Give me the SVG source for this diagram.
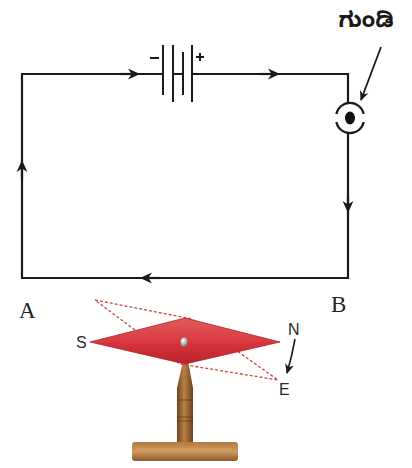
<svg xmlns="http://www.w3.org/2000/svg" width="412" height="468" viewBox="0 0 412 468">
  <defs>
    <style>
      .wire { fill: none; stroke: #1a1a1a; stroke-width: 2.2; }
      .plate { stroke: #1a1a1a; stroke-width: 2; }
      .lbl { font-family: "Liberation Serif", serif; font-size: 23px; fill: #222; }
      .pole { font-family: "Liberation Sans", Arial, sans-serif; font-size: 16px; fill: #2a2a2a; }
      .dash { fill: none; stroke: #d04545; stroke-width: 1.3; stroke-dasharray: 3 2; }
    </style>
    <marker id="ah" viewBox="0 0 10 10" refX="5" refY="5" markerWidth="12" markerHeight="12" orient="auto" markerUnits="userSpaceOnUse">
      <path d="M0,0.5 L10,5 L0,9.5 L3,5 Z" fill="#1a1a1a"/>
    </marker>
    <marker id="ah2" viewBox="0 0 10 10" refX="9" refY="5" markerWidth="10" markerHeight="10" orient="auto" markerUnits="userSpaceOnUse">
      <path d="M0,0.5 L10,5 L0,9.5 L3,5 Z" fill="#1a1a1a"/>
    </marker>
    <linearGradient id="redTop" x1="0" y1="0" x2="0" y2="1">
      <stop offset="0" stop-color="#e35a5a"/>
      <stop offset="1" stop-color="#d93a3f"/>
    </linearGradient>
    <linearGradient id="redBot" x1="0" y1="0" x2="0" y2="1">
      <stop offset="0" stop-color="#d7353b"/>
      <stop offset="1" stop-color="#b9232b"/>
    </linearGradient>
    <linearGradient id="wood" x1="0" y1="0" x2="1" y2="0">
      <stop offset="0" stop-color="#6e4520"/>
      <stop offset="0.45" stop-color="#b98148"/>
      <stop offset="1" stop-color="#6a421e"/>
    </linearGradient>
    <linearGradient id="woodBase" x1="0" y1="0" x2="0" y2="1">
      <stop offset="0" stop-color="#b47b42"/>
      <stop offset="0.5" stop-color="#cf9a5e"/>
      <stop offset="1" stop-color="#8a5a2c"/>
    </linearGradient>
    <radialGradient id="pin" cx="0.4" cy="0.35" r="0.7">
      <stop offset="0" stop-color="#ffffff"/>
      <stop offset="0.6" stop-color="#a8b8b8"/>
      <stop offset="1" stop-color="#6b7d80"/>
    </radialGradient>
  </defs>

  <rect width="412" height="468" fill="#ffffff"/>

  <!-- circuit wiring -->
  <g id="connectors">
    <path class="wire" d="M163,74 H22 V278 H348 V132"/>
    <path class="wire" d="M192,74 H348 V103"/>
    <!-- direction-of-current arrows -->
    <path class="wire" d="M120,74 H134" marker-end="url(#ah)"/>
    <path class="wire" d="M260,74 H274" marker-end="url(#ah)"/>
    <path class="wire" d="M348,195 V207" marker-end="url(#ah)"/>
    <path class="wire" d="M160,278 H146" marker-end="url(#ah)"/>
    <path class="wire" d="M22,180 V166" marker-end="url(#ah)"/>
    <!-- pointer to the key -->
    <path fill="none" stroke="#1a1a1a" stroke-width="1.8" d="M381,47 L361,100" marker-end="url(#ah2)"/>
  </g>

  <!-- battery -->
  <g id="battery">
    <line class="plate" x1="163" y1="45" x2="163" y2="95"/>
    <line class="plate" x1="173" y1="45" x2="173" y2="102"/>
    <line class="plate" x1="183" y1="52" x2="183" y2="95"/>
    <line class="plate" x1="173" y1="74" x2="183" y2="74"/>
    <line class="plate" x1="192" y1="45" x2="192" y2="102"/>
    <line class="plate" x1="150" y1="58" x2="159" y2="58"/>
    <path class="plate" d="M196,57 H204 M200,53 V61"/>
  </g>

  <!-- key / switch -->
  <g id="key">
    <path class="wire" d="M336.3,114 A14,14 0 0 1 363.7,114"/>
    <path class="wire" d="M336.3,122 A14,14 0 0 0 363.7,122"/>
    <ellipse cx="350" cy="118" rx="5" ry="6.5" fill="#111"/>
    <text x="366" y="27" text-anchor="middle" font-family="'Noto Sans Kannada', 'Noto Sans', sans-serif" font-size="22" font-weight="bold" fill="#1a1a1a">ಗುಂಡಿ</text>
  </g>

  <g id="label-a"><text class="lbl" x="19" y="318">A</text></g>
  <g id="label-b"><text class="lbl" x="331" y="312">B</text></g>

  <!-- compass needle on its stand -->
  <g id="compass">
    <!-- stand post -->
    <path d="M182,366 Q184,362 186,362 Q188,362 189,366 L193,388 L193,442 L177,442 L177,388 Z" fill="url(#wood)"/>
    <path d="M177,400 H193 M177,417 H193 M177,421 H193" stroke="#4e3015" stroke-width="1.2" opacity="0.6"/>
    <!-- base -->
    <rect x="132" y="442" width="106" height="19" rx="3" fill="url(#woodBase)"/>
    <path d="M136,449 H232" stroke="#e2b07a" stroke-width="1" opacity="0.6"/>
    <!-- deflected position (dashed) -->
    <path class="dash" d="M95,300 L192,319 L278,380 L180,364 Z"/>
    <!-- needle -->
    <path d="M90,342 L185,318 L280,342 Z" fill="url(#redTop)"/>
    <path d="M90,342 L280,342 L185,364 Z" fill="url(#redBot)"/>
    <path d="M90,342 L185,318 L280,342 L185,364 Z" fill="none" stroke="#b02028" stroke-width="0.8"/>
    <ellipse cx="184" cy="342" rx="3.5" ry="4.5" fill="url(#pin)"/>
    <text class="pole" x="76" y="348">S</text>
    <text class="pole" x="288" y="335">N</text>
    <text class="pole" x="279" y="395">E</text>
    <path fill="none" stroke="#1a1a1a" stroke-width="1.6" d="M295,339 Q292,356 287,373" marker-end="url(#ah2)"/>
  </g>
</svg>
